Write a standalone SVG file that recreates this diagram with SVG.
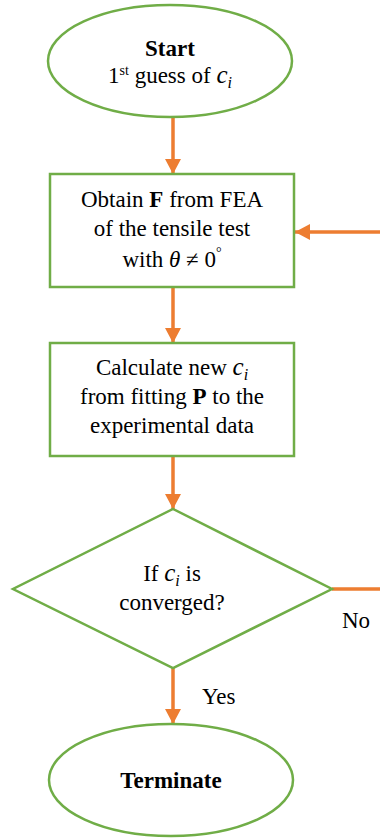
<svg xmlns="http://www.w3.org/2000/svg" width="380" height="839" viewBox="0 0 380 839">
  <style>
    .node { fill: #ffffff; stroke: #70AD47; stroke-width: 2.5; }
    .conn { fill: none; stroke: #ED7D31; stroke-width: 3.5; }
    text { font-family: "Liberation Serif", "Times New Roman", serif; font-size: 23px; fill: #000000; text-anchor: middle; }
    .b { font-weight: bold; }
    .i { font-style: italic; }
    .m { font-style: italic; font-size: 25px; }
    .sub { font-style: italic; font-size: 16px; }
    .lbl { text-anchor: start; }
  </style>
  <defs>
    <marker id="arrow" markerUnits="userSpaceOnUse" markerWidth="16" markerHeight="16" refX="15" refY="8" orient="auto">
      <path d="M0,0 L15,8 L0,16 Z" fill="#ED7D31"/>
    </marker>
  </defs>
  <rect width="380" height="839" fill="#ffffff"/>

  <g id="connectors">
    <line class="conn" x1="173" y1="117" x2="173" y2="174" marker-end="url(#arrow)"/>
    <line class="conn" x1="173" y1="287" x2="173" y2="343" marker-end="url(#arrow)"/>
    <line class="conn" x1="173" y1="456" x2="173" y2="509" marker-end="url(#arrow)"/>
    <line class="conn" x1="173" y1="668" x2="173" y2="724" marker-end="url(#arrow)"/>
    <path class="conn" d="M332,589 H392 V232 H295" marker-end="url(#arrow)"/>
    <text class="lbl" x="342" y="628">No</text>
    <text class="lbl" x="202" y="704">Yes</text>
  </g>

  <g id="start">
    <ellipse class="node" cx="170" cy="61" rx="122" ry="56"/>
    <text x="170" y="56" class="b">Start</text>
    <text x="170" y="83">1<tspan font-size="14" dy="-8">st</tspan><tspan dy="8"> guess of </tspan><tspan class="m">c</tspan><tspan class="sub" dy="5">i</tspan></text>
  </g>

  <g id="obtain">
    <rect class="node" x="50" y="174" width="244" height="113"/>
    <text x="172" y="207">Obtain <tspan class="b">F</tspan> from FEA</text>
    <text x="172" y="236">of the tensile test</text>
    <text x="172" y="267">with <tspan class="i">θ</tspan> ≠ 0<tspan font-size="14" dy="-10">°</tspan></text>
  </g>

  <g id="calculate">
    <rect class="node" x="50" y="343" width="244" height="113"/>
    <text x="172" y="375">Calculate new <tspan class="m">c</tspan><tspan class="sub" dy="5">i</tspan></text>
    <text x="172" y="404">from fitting <tspan class="b">P</tspan> to the</text>
    <text x="172" y="433">experimental data</text>
  </g>

  <g id="decision">
    <polygon class="node" points="173,509 332,589 173,668 13,589"/>
    <text x="172" y="581">If <tspan class="m">c</tspan><tspan class="sub" dy="5">i</tspan><tspan dy="-5"> is</tspan></text>
    <text x="172" y="610">converged?</text>
  </g>

  <g id="terminate">
    <ellipse class="node" cx="171" cy="780" rx="122" ry="56"/>
    <text x="171" y="788" class="b">Terminate</text>
  </g>
</svg>
